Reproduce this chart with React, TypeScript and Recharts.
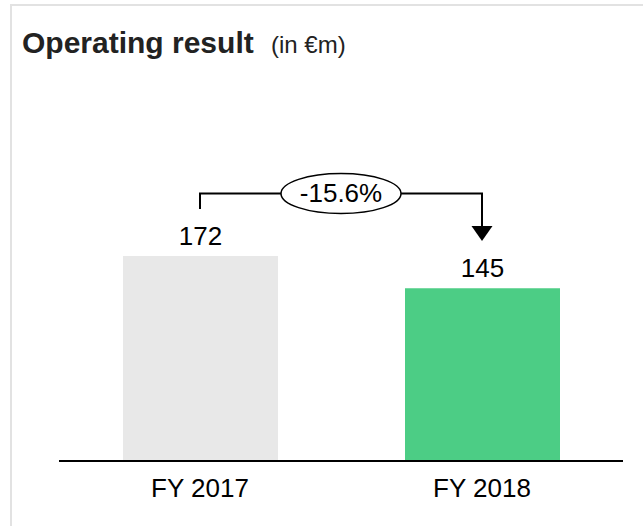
import React from 'react';
import { BarChart, Bar, XAxis, YAxis, Cell, LabelList, ReferenceLine } from 'recharts';

const categories = ['FY 2017', 'FY 2018'];
const values = [172, 145];
const barColors = ['#E8E8E8', '#4CCD85'];
const changeLabel = '-15.6%';
const titleMain = 'Operating result';
const titleUnit = '(in €m)';

const data = categories.map((name, i) => ({ name, value: values[i] }));

const FONT = '"Liberation Sans", Arial, Helvetica, sans-serif';
const BRACKET_Y = 224.4; // annotation height in value units

const Bracket = (props: any) => {
  const { x1, y1, x2 } = props;
  const mid = (x1 + x2) / 2;
  return (
    <g>
      <path
        d={`M${x1},${y1 + 15.5} V${y1} H${x2} V${y1 + 33}`}
        stroke="#000"
        strokeWidth={2}
        fill="none"
      />
      <polygon
        points={`${x2 - 10.5},${y1 + 32.5} ${x2 + 10.5},${y1 + 32.5} ${x2},${y1 + 47.5}`}
        fill="#000"
      />
      <ellipse cx={mid} cy={y1} rx={60} ry={20} fill="#fff" stroke="#000" strokeWidth={1.5} />
      <text x={mid} y={y1 + 8.5} textAnchor="middle" fontSize={26} fontFamily={FONT} fill="#000">
        {changeLabel}
      </text>
    </g>
  );
};

export default function App() {
  return (
    <div
      style={{
        position: 'absolute',
        left: 0,
        top: 0,
        width: 643,
        height: 526,
        overflow: 'hidden',
        background: '#fff',
      }}
    >
      <div
        style={{
          position: 'absolute',
          left: 10,
          top: 4,
          width: 800,
          height: 700,
          border: '2px solid #E2E2E2',
          boxSizing: 'border-box',
        }}
      />
      <svg width={643} height={80} style={{ position: 'absolute', left: 0, top: 0 }}>
        <text x={22} y={53} fontSize={30} fontWeight="bold" fontFamily={FONT} fill="#222">
          {titleMain}
        </text>
        <text x={271} y={53} fontSize={24} fontFamily={FONT} fill="#222">
          {titleUnit}
        </text>
      </svg>
      <div style={{ position: 'absolute', left: 0, top: 0 }}>
        <BarChart
          width={643}
          height={526}
          data={data}
          margin={{ top: 163, right: 20, bottom: 35, left: 59 }}
        >
          <XAxis
            dataKey="name"
            height={30}
            tickLine={false}
            tickSize={0}
            tickMargin={18}
            axisLine={{ stroke: '#000', strokeWidth: 2 }}
            tick={{ fill: '#000', fontSize: 26, fontFamily: FONT }}
            interval={0}
          />
          <YAxis hide domain={[0, 250]} />
          <Bar dataKey="value" barSize={155} isAnimationActive={false}>
            {data.map((d, i) => (
              <Cell key={d.name} fill={barColors[i]} />
            ))}
            <LabelList
              dataKey="value"
              position="top"
              offset={11}
              fill="#000"
              fontSize={26}
              fontFamily={FONT}
            />
          </Bar>
          <ReferenceLine
            segment={[
              { x: categories[0], y: BRACKET_Y },
              { x: categories[1], y: BRACKET_Y },
            ]}
            ifOverflow="visible"
            shape={Bracket}
          />
        </BarChart>
      </div>
    </div>
  );
}
